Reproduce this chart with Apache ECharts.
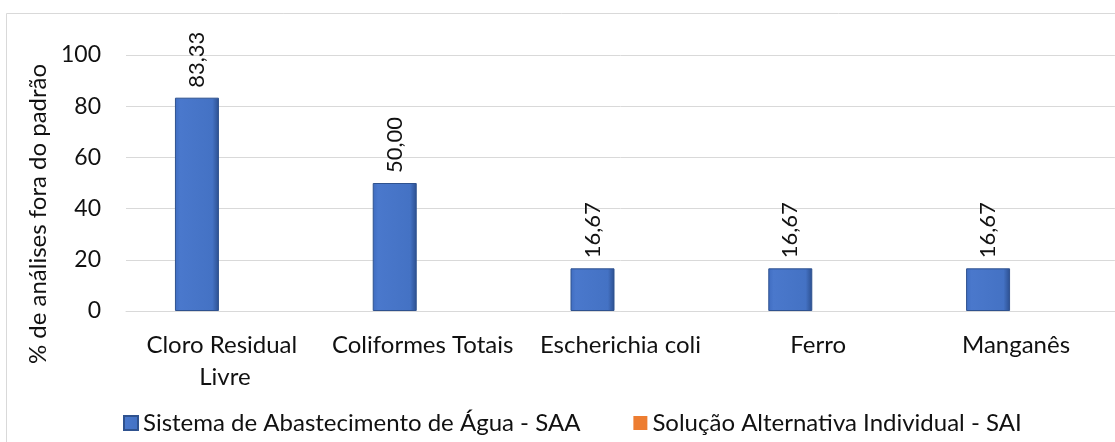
<!DOCTYPE html>
<html>
<head>
<meta charset="utf-8">
<script src="https://cdn.jsdelivr.net/npm/echarts@6/dist/echarts.min.js"></script>
<style>
  html, body { margin: 0; padding: 0; background: #fff; }
  #chart { width: 1115px; height: 442px; }
</style>
</head>
<body>
<div id="chart"></div>
<script>
// dados do gráfico
const categorias = ['Cloro Residual Livre', 'Coliformes Totais', 'Escherichia coli', 'Ferro', 'Manganês'];
const serieSAA = [83.33, 50.0, 16.67, 16.67, 16.67];
const serieSAI = [0, 0, 0, 0, 0];
const nomesSeries = ['Sistema de Abastecimento de Água - SAA', 'Solução Alternativa Individual - SAI'];
const yTicks = { min: 0, max: 100, interval: 20 };

const FONT = 'Lato, "Open Sans", sans-serif';
const TEXT = '#111';

// formata com 2 casas e vírgula decimal
const fmt = (v) => Number(v).toFixed(2).replace('.', ',');

const chart = echarts.init(document.getElementById('chart'), null, { renderer: 'canvas' });

const option = {
  backgroundColor: '#fff',
  animation: false,
  textStyle: { fontFamily: FONT, color: TEXT },
  graphic: [
    {
      type: 'rect',
      shape: { x: 6.5, y: 13.5, width: 1200, height: 500 },
      style: { fill: 'none', stroke: '#d9d9d9', lineWidth: 1 },
      silent: true,
      z: -1,
    },
  ],
  grid: { left: 126, right: 0, top: 55, bottom: 131 },
  legend: {
    left: 118,
    top: 406,
    itemWidth: 14,
    itemHeight: 14,
    itemGap: 53,
    icon: 'rect',
    textStyle: { fontFamily: FONT, fontSize: 24, color: TEXT },
    data: nomesSeries,
  },
  xAxis: {
    type: 'category',
    data: categorias,
    axisLine: { lineStyle: { color: '#d9d9d9', width: 1 } },
    axisTick: { show: false },
    axisLabel: {
      fontFamily: FONT,
      fontSize: 24,
      color: TEXT,
      lineHeight: 32,
      margin: 18,
      width: 192,
      overflow: 'break',
      interval: 0,
    },
  },
  yAxis: {
    type: 'value',
    min: yTicks.min,
    max: yTicks.max,
    interval: yTicks.interval,
    name: '% de análises fora do padrão',
    nameLocation: 'middle',
    nameGap: 66,
    nameTextStyle: { fontFamily: FONT, fontSize: 24, color: TEXT, padding: [0, 62, 0, 0] },
    axisLine: { show: false },
    axisTick: { show: false },
    axisLabel: { fontFamily: FONT, fontSize: 23, color: TEXT, margin: 25 },
    splitLine: { lineStyle: { color: '#d9d9d9', width: 1 } },
  },
  series: [
    {
      name: nomesSeries[0],
      type: 'bar',
      data: serieSAA,
      barWidth: 44,
      barGap: '27%',
      itemStyle: {
        color: {
          type: 'linear', x: 0, y: 0, x2: 1, y2: 0,
          colorStops: [
            { offset: 0, color: '#3f6cc0' },
            { offset: 0.12, color: '#4a78cc' },
            { offset: 0.85, color: '#4472c4' },
            { offset: 1, color: '#2c4f8f' },
          ],
        },
        borderColor: '#2f528f',
        borderWidth: 1,
      },
      label: {
        show: true,
        position: 'top',
        rotate: 90,
        align: 'left',
        verticalAlign: 'middle',
        distance: 10,
        fontFamily: FONT,
        fontSize: 22,
        color: TEXT,
        formatter: (p) => fmt(p.value),
      },
    },
    {
      name: nomesSeries[1],
      type: 'bar',
      data: serieSAI,
      barWidth: 44,
      itemStyle: { color: '#ed7d31' },
    },
  ],
};

chart.setOption(option);
</script>
</body>
</html>
